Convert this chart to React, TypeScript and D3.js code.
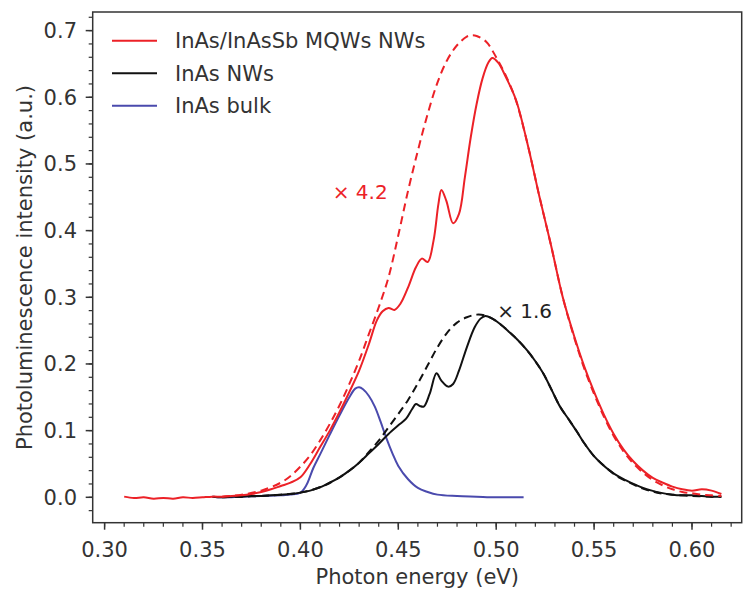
import React from "react";
import * as d3 from "d3";

type P = [number, number];

// InAs/InAsSb MQWs NWs (measured, solid)
const redSolid: P[] = [
  [0.310, 0.001], [0.315, -0.001], [0.320, 0.000], [0.325, -0.002], [0.330, -0.001],
  [0.335, -0.002], [0.340, 0.000], [0.345, -0.001], [0.350, 0.000], [0.355, 0.001],
  [0.360, 0.001], [0.365, 0.002], [0.370, 0.003], [0.375, 0.005], [0.380, 0.008],
  [0.385, 0.012], [0.390, 0.017], [0.395, 0.022], [0.400, 0.030], [0.405, 0.050],
  [0.410, 0.075], [0.415, 0.100], [0.420, 0.128], [0.425, 0.158], [0.430, 0.190],
  [0.435, 0.230], [0.439, 0.265], [0.442, 0.279], [0.445, 0.284], [0.448, 0.281],
  [0.451, 0.290], [0.455, 0.315], [0.459, 0.345], [0.462, 0.358], [0.465, 0.353],
  [0.468, 0.385], [0.4705, 0.440], [0.472, 0.461], [0.4745, 0.445], [0.478, 0.411],
  [0.481, 0.425], [0.484, 0.480], [0.487, 0.540], [0.490, 0.590], [0.493, 0.628],
  [0.496, 0.652], [0.498, 0.659], [0.501, 0.652], [0.505, 0.630], [0.510, 0.597],
  [0.516, 0.530], [0.522, 0.452], [0.528, 0.378], [0.534, 0.300], [0.540, 0.240],
  [0.545, 0.196], [0.550, 0.158], [0.555, 0.124], [0.560, 0.095], [0.565, 0.072],
  [0.570, 0.054], [0.575, 0.040], [0.580, 0.029], [0.585, 0.022], [0.590, 0.016],
  [0.595, 0.012], [0.600, 0.010], [0.605, 0.012], [0.610, 0.010], [0.615, 0.005],
];

// InAs/InAsSb MQWs NWs (fit x 4.2, dashed)
const redDashed: P[] = [
  [0.360, 0.001], [0.370, 0.004], [0.380, 0.010], [0.390, 0.022], [0.395, 0.032],
  [0.400, 0.046], [0.405, 0.063], [0.410, 0.085], [0.415, 0.110], [0.420, 0.138],
  [0.425, 0.170], [0.430, 0.205], [0.435, 0.245], [0.440, 0.285], [0.445, 0.330],
  [0.450, 0.393], [0.455, 0.460], [0.460, 0.520], [0.465, 0.575], [0.470, 0.622],
  [0.475, 0.656], [0.480, 0.678], [0.485, 0.691], [0.4875, 0.693], [0.490, 0.692],
  [0.495, 0.683], [0.500, 0.660], [0.505, 0.632], [0.510, 0.596], [0.516, 0.530],
  [0.522, 0.452], [0.528, 0.378], [0.534, 0.300], [0.540, 0.238], [0.545, 0.193],
  [0.550, 0.155], [0.555, 0.121], [0.560, 0.092], [0.565, 0.069], [0.570, 0.051],
  [0.575, 0.037], [0.580, 0.026], [0.585, 0.018], [0.590, 0.012], [0.595, 0.008],
  [0.600, 0.006], [0.605, 0.004], [0.610, 0.003], [0.615, 0.002],
];

// InAs NWs (measured, solid)
const blackSolid: P[] = [
  [0.355, 0.001], [0.360, 0.000], [0.365, 0.001], [0.370, 0.001], [0.375, 0.002],
  [0.380, 0.002], [0.385, 0.003], [0.390, 0.004], [0.395, 0.005], [0.400, 0.007],
  [0.405, 0.010], [0.410, 0.015], [0.415, 0.022], [0.420, 0.030], [0.425, 0.040],
  [0.430, 0.052], [0.435, 0.066], [0.440, 0.080], [0.445, 0.095], [0.450, 0.108],
  [0.454, 0.118], [0.457, 0.132], [0.459, 0.140], [0.461, 0.137], [0.463, 0.136],
  [0.466, 0.155], [0.4695, 0.186], [0.472, 0.175], [0.4755, 0.166], [0.478, 0.170],
  [0.481, 0.190], [0.485, 0.225], [0.489, 0.255], [0.492, 0.268], [0.4945, 0.272],
  [0.498, 0.268], [0.502, 0.260], [0.507, 0.247], [0.511, 0.236], [0.5156, 0.221],
  [0.520, 0.204], [0.524, 0.186], [0.528, 0.163], [0.5326, 0.136], [0.537, 0.117],
  [0.5411, 0.099], [0.545, 0.081], [0.5496, 0.063], [0.554, 0.050], [0.558, 0.040],
  [0.562, 0.032], [0.5666, 0.025], [0.571, 0.019], [0.575, 0.014], [0.5795, 0.010],
  [0.5837, 0.007], [0.590, 0.004], [0.595, 0.003], [0.600, 0.003], [0.605, 0.002],
  [0.610, 0.001], [0.615, 0.001],
];

// InAs NWs (fit x 1.6, dashed)
const blackDashed: P[] = [
  [0.360, 0.000], [0.370, 0.001], [0.380, 0.002], [0.390, 0.004], [0.400, 0.007],
  [0.410, 0.015], [0.420, 0.030], [0.430, 0.052], [0.435, 0.068], [0.440, 0.085],
  [0.445, 0.105], [0.450, 0.125], [0.455, 0.146], [0.460, 0.171], [0.465, 0.198],
  [0.470, 0.225], [0.475, 0.247], [0.480, 0.262], [0.485, 0.270], [0.490, 0.274],
  [0.494, 0.273], [0.498, 0.268], [0.502, 0.260], [0.507, 0.247], [0.511, 0.236],
  [0.5156, 0.221], [0.520, 0.204], [0.524, 0.186], [0.528, 0.163], [0.5326, 0.136],
  [0.537, 0.117], [0.5411, 0.099], [0.545, 0.081], [0.5496, 0.063], [0.554, 0.050],
  [0.558, 0.040], [0.562, 0.031], [0.5666, 0.024], [0.571, 0.018], [0.575, 0.013],
  [0.5795, 0.009], [0.5837, 0.006], [0.590, 0.004], [0.600, 0.002], [0.610, 0.001],
  [0.615, 0.001],
];

// InAs bulk
const blueSolid: P[] = [
  [0.355, 0.001], [0.360, 0.000], [0.370, 0.001], [0.380, 0.002], [0.390, 0.003],
  [0.395, 0.004], [0.400, 0.007], [0.403, 0.018], [0.4066, 0.044], [0.410, 0.064],
  [0.415, 0.094], [0.420, 0.123], [0.425, 0.150], [0.428, 0.163], [0.430, 0.165],
  [0.432, 0.162], [0.435, 0.152], [0.438, 0.136], [0.441, 0.113], [0.444, 0.088],
  [0.447, 0.066], [0.450, 0.047], [0.455, 0.027], [0.460, 0.014], [0.465, 0.008],
  [0.470, 0.004], [0.480, 0.002], [0.490, 0.001], [0.500, 0.000], [0.514, 0.000],
];

const xTicks = [0.3, 0.35, 0.4, 0.45, 0.5, 0.55, 0.6];
const yTicks = [0.0, 0.1, 0.2, 0.3, 0.4, 0.5, 0.6, 0.7];
const legendLabels = ["InAs/InAsSb MQWs NWs", "InAs NWs", "InAs bulk"];
const annotations = [
  { text: "\u00d7 4.2", x: 0.4165, y: 0.4475, color: "red" },
  { text: "\u00d7 1.6", x: 0.5005, y: 0.2685, color: "black" },
];

const W = 743;
const H = 589;
const L = 92.7, T = 12, R = 741.7, B = 522.7;
const RED = "#ec2127";
const BLACK = "#111111";
const BLUE = "#4a4aad";
const TXT = "#333333";
const FONT = "DejaVu Sans";

export default function App() {
  const x = d3.scaleLinear().domain([0.30 - (104.6 - L) / 1958, 0.30 + (R - 104.6) / 1958]).range([L, R]);
  const y = d3.scaleLinear().domain([-(B - 497.3) / 666.7, (497.3 - T) / 666.7]).range([B, T]);
  const line = d3
    .line<P>()
    .x((d) => x(d[0]))
    .y((d) => y(d[1]))
    .curve(d3.curveCatmullRom.alpha(0.5));

  const xMinor = d3.range(30, 63).map((i) => i / 100);
  const yMinor = d3.range(-1, 37).map((i) => i / 50);

  const colors = [RED, BLACK, BLUE];
  const annColor: Record<string, string> = { red: RED, black: "#222" };

  return (
    <svg width={W} height={H} style={{ position: "absolute", left: 0, top: 0, background: "#fff" }} fontFamily={FONT}>
      <rect x={0} y={0} width={W} height={H} fill="#fff" />
      {/* curves */}
      <path d={line(blueSolid) || ""} fill="none" stroke={BLUE} strokeWidth={2} />
      <path d={line(blackDashed) || ""} fill="none" stroke={BLACK} strokeWidth={2} strokeDasharray="8,5" />
      <path d={line(blackSolid) || ""} fill="none" stroke={BLACK} strokeWidth={2} />
      <path d={line(redDashed) || ""} fill="none" stroke={RED} strokeWidth={2} strokeDasharray="8,5" />
      <path d={line(redSolid) || ""} fill="none" stroke={RED} strokeWidth={2} />

      {/* frame */}
      <rect x={L} y={T} width={R - L} height={B - T} fill="none" stroke="#333" strokeWidth={1.5} />

      {/* x ticks */}
      {xMinor.map((v) => (
        <line key={"xm" + v} x1={x(v)} x2={x(v)} y1={B} y2={B + 4} stroke="#333" strokeWidth={1.2} />
      ))}
      {xTicks.map((v) => (
        <g key={"x" + v}>
          <line x1={x(v)} x2={x(v)} y1={B} y2={B + 7} stroke="#333" strokeWidth={1.5} />
          <text x={x(v)} y={557} textAnchor="middle" fontSize={21} fill={TXT}>
            {v.toFixed(2)}
          </text>
        </g>
      ))}
      {/* y ticks */}
      {yMinor.map((v) => (
        <line key={"ym" + v} x1={L - 4} x2={L} y1={y(v)} y2={y(v)} stroke="#333" strokeWidth={1.2} />
      ))}
      {yTicks.map((v) => (
        <g key={"y" + v}>
          <line x1={L - 7} x2={L} y1={y(v)} y2={y(v)} stroke="#333" strokeWidth={1.5} />
          <text x={77} y={y(v) + 7.5} textAnchor="end" fontSize={21} fill={TXT}>
            {v.toFixed(1)}
          </text>
        </g>
      ))}

      {/* axis labels */}
      <text x={(L + R) / 2} y={584} textAnchor="middle" fontSize={21} fill={TXT}>
        Photon energy (eV)
      </text>
      <text
        transform={`translate(32,${267.5}) rotate(-90)`}
        textAnchor="middle"
        fontSize={21}
        fill={TXT}
      >
        Photoluminescence intensity (a.u.)
      </text>

      {/* legend */}
      {legendLabels.map((lab, i) => {
        const ly = 40.7 + i * 32.5;
        return (
          <g key={lab}>
            <line x1={112} x2={157} y1={ly} y2={ly} stroke={colors[i]} strokeWidth={2} />
            <text x={175} y={ly + 7.5} fontSize={21} fill={TXT}>
              {lab}
            </text>
          </g>
        );
      })}

      {/* annotations */}
      {annotations.map((a) => (
        <text key={a.text} x={x(a.x)} y={y(a.y)} fontSize={20} fill={annColor[a.color]}>
          {a.text}
        </text>
      ))}
    </svg>
  );
}
